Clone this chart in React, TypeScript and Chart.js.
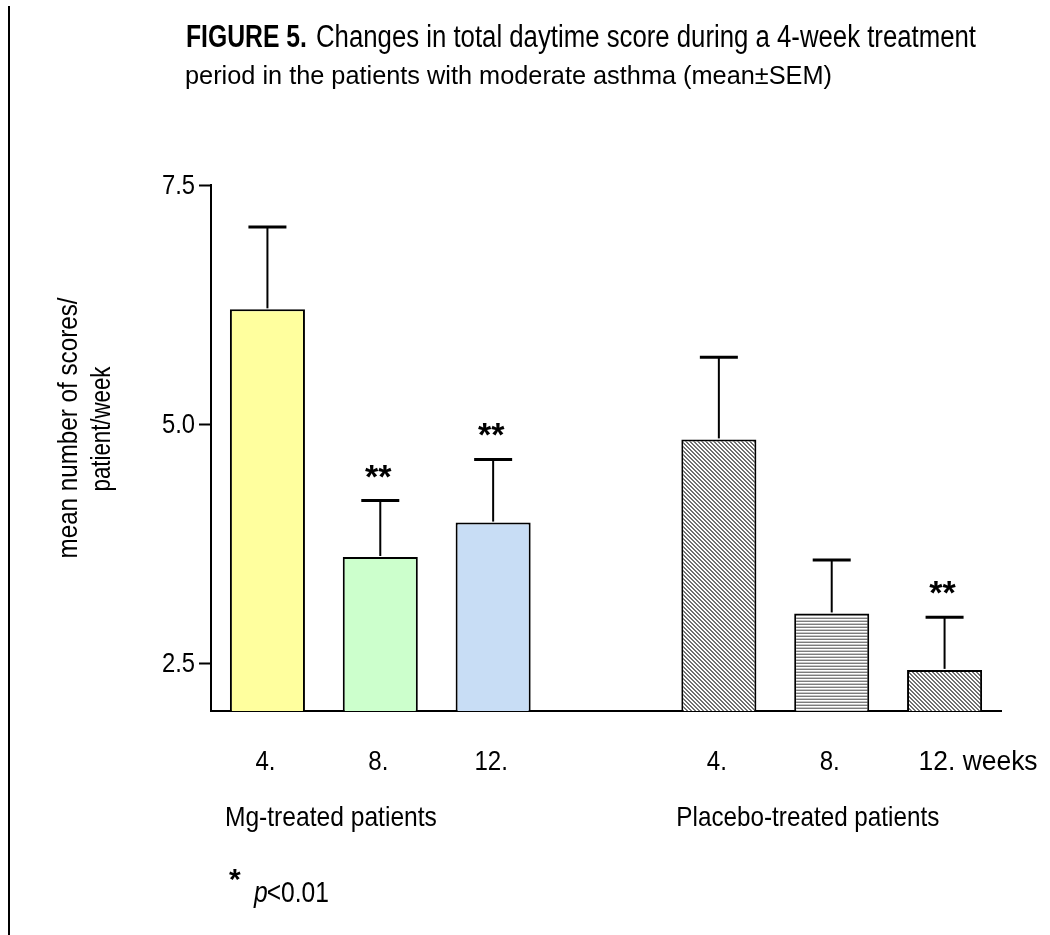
import React, { useEffect, useRef } from "react";
import { Chart, registerables } from "chart.js";

Chart.register(...registerables);

// ---------- data ----------
const categories = ["Mg 4", "Mg 8", "Mg 12", "", "Placebo 4", "Placebo 8", "Placebo 12"];
const tickLabels = ["4.", "8.", "12.", "", "4.", "8.", "12. weeks"];
const meanValues: (number | null)[] = [6.2, 3.61, 3.97, null, 4.84, 3.02, 2.43];
const semValues: (number | null)[] = [0.86, 0.59, 0.66, null, 0.86, 0.56, 0.55];
const significance = ["", "**", "**", "", "", "", "**"];
const yTicks = [2.5, 5.0, 7.5];
const groupLabels = ["Mg-treated patients", "Placebo-treated patients"];
const groupStartIndex = [0, 4];
const titleBold = "FIGURE 5.";
const titleLine1 = "Changes in total daytime score during a 4-week treatment";
const titleLine2 = "period in the patients with moderate asthma (mean±SEM)";
const yTitle = ["mean number of scores/", "patient/week"];
const noteStar = "*";
const noteP = "p";
const noteRest = "<0.01";

const FONT = "'Liberation Sans', Arial, Helvetica, sans-serif";

function makeDiagPattern(ctx: CanvasRenderingContext2D): CanvasPattern | string {
  const c = document.createElement("canvas");
  c.width = 4;
  c.height = 4;
  const g = c.getContext("2d");
  if (!g) return "#b0b0b0";
  g.fillStyle = "#ffffff";
  g.fillRect(0, 0, 4, 4);
  g.fillStyle = "#707070";
  for (let i = 0; i < 4; i++) {
    g.fillRect(i, i, 1, 1);
    g.fillRect((i + 1) % 4, i, 1, 1);
  }
  return ctx.createPattern(c, "repeat") || "#b0b0b0";
}

function makeHorizPattern(ctx: CanvasRenderingContext2D): CanvasPattern | string {
  const c = document.createElement("canvas");
  c.width = 4;
  c.height = 3;
  const g = c.getContext("2d");
  if (!g) return "#b0b0b0";
  g.fillStyle = "#7c7c7c";
  g.fillRect(0, 0, 4, 1);
  g.fillStyle = "#ffffff";
  g.fillRect(0, 1, 4, 1);
  g.fillStyle = "#c8c8c8";
  g.fillRect(0, 2, 4, 1);
  return ctx.createPattern(c, "repeat") || "#b0b0b0";
}

// draw text compressed horizontally by sx
function drawScaled(
  ctx: CanvasRenderingContext2D,
  text: string,
  x: number,
  y: number,
  font: string,
  sx: number,
  align: CanvasTextAlign
) {
  ctx.save();
  ctx.font = font;
  ctx.textAlign = align;
  ctx.textBaseline = "alphabetic";
  ctx.translate(x, y);
  ctx.scale(sx, 1);
  ctx.fillText(text, 0, 0);
  ctx.restore();
}

// draw text fitted to a given width
function drawToWidth(
  ctx: CanvasRenderingContext2D,
  text: string,
  x: number,
  y: number,
  font: string,
  width: number,
  align: CanvasTextAlign = "left"
) {
  ctx.save();
  ctx.font = font;
  const w = ctx.measureText(text).width;
  ctx.restore();
  drawScaled(ctx, text, x, y, font, width / w, align);
}

const annotationPlugin = {
  id: "figureAnnotations",
  afterDraw(chart: any) {
    const ctx: CanvasRenderingContext2D = chart.ctx;
    const yScale = chart.scales.y;
    const xScale = chart.scales.x;
    const meta = chart.getDatasetMeta(0);
    ctx.save();
    ctx.fillStyle = "#000";
    ctx.strokeStyle = "#000";

    // left frame line
    ctx.fillRect(8, 6, 2, 935 - 6);

    // y tick labels
    yScale.ticks.forEach((t: any) => {
      const y = yScale.getPixelForValue(t.value);
      drawScaled(ctx, Number(t.value).toFixed(1), 195, y + 9, `28px ${FONT}`, 0.85, "right");
    });

    // error bars + significance
    meanValues.forEach((m, i) => {
      const s = semValues[i];
      if (m == null || s == null) return;
      const bar = meta.data[i];
      const x = bar.x;
      const yBar = yScale.getPixelForValue(m);
      const yTop = yScale.getPixelForValue(m + s);
      ctx.lineWidth = 2;
      ctx.beginPath();
      ctx.moveTo(x, yBar - 1);
      ctx.lineTo(x, yTop);
      ctx.stroke();
      ctx.lineWidth = 3;
      ctx.beginPath();
      ctx.moveTo(x - 19, yTop);
      ctx.lineTo(x + 19, yTop);
      ctx.stroke();
      if (significance[i]) {
        drawScaled(ctx, significance[i], x - 2, yTop - 13, `bold 34px ${FONT}`, 1, "center");
      }
    });

    // x tick labels
    tickLabels.forEach((lab, i) => {
      if (!lab) return;
      const x = xScale.getPixelForValue(i);
      if (lab.indexOf(" ") > 0) {
        drawToWidth(ctx, lab, x - 26, 770, `28px ${FONT}`, 119, "left");
      } else {
        drawScaled(ctx, lab, x - 2, 770, `28px ${FONT}`, 0.86, "center");
      }
    });

    // group labels
    const groupWidths = [212, 263];
    groupLabels.forEach((lab, g) => {
      const bar = meta.data[groupStartIndex[g]];
      const left = bar.x - bar.width / 2;
      drawToWidth(ctx, lab, left - 5, 826, `28px ${FONT}`, groupWidths[g], "left");
    });

    // note
    drawScaled(ctx, noteStar, 229, 889, `bold 30px ${FONT}`, 1, "left");
    drawScaled(ctx, noteP, 254, 902, `italic 30px ${FONT}`, 0.82, "left");
    ctx.font = `italic 30px ${FONT}`;
    const pw = ctx.measureText(noteP).width * 0.82;
    drawScaled(ctx, noteRest, 254 + pw - 1, 902, `30px ${FONT}`, 0.82, "left");

    // title
    drawToWidth(ctx, titleBold, 186, 47, `bold 31px ${FONT}`, 121, "left");
    drawToWidth(ctx, titleLine1, 316, 47, `31px ${FONT}`, 660, "left");
    drawToWidth(ctx, titleLine2, 185, 84, `26px ${FONT}`, 647, "left");

    // y-axis title
    ctx.save();
    ctx.translate(77, 428);
    ctx.rotate(-Math.PI / 2);
    drawToWidth(ctx, yTitle[0], 0, 0, `28px ${FONT}`, 261, "center");
    ctx.restore();
    ctx.save();
    ctx.translate(110, 429);
    ctx.rotate(-Math.PI / 2);
    drawToWidth(ctx, yTitle[1], 0, 0, `28px ${FONT}`, 125, "center");
    ctx.restore();

    ctx.restore();
  },
};

export default function App() {
  const ref = useRef<HTMLCanvasElement | null>(null);
  useEffect(() => {
    const canvas = ref.current;
    if (!canvas) return;
    const ctx = canvas.getContext("2d");
    if (!ctx) return;
    const diag = makeDiagPattern(ctx);
    const horiz = makeHorizPattern(ctx);
    const fills = ["#FFFF9E", "#CCFFCC", "#C8DDF5", "#ffffff", diag, horiz, diag];
    const chart = new Chart(canvas, {
      type: "bar",
      data: {
        labels: categories,
        datasets: [
          {
            data: meanValues as any,
            backgroundColor: fills as any,
            borderColor: "#000",
            borderWidth: 2,
            barPercentage: 0.665,
            categoryPercentage: 1,
          },
        ],
      },
      options: {
        responsive: false,
        animation: false,
        layout: { padding: { left: 0, right: 49, top: 185, bottom: 0 } },
        plugins: {
          legend: { display: false },
          tooltip: { enabled: false },
          title: { display: false },
        },
        scales: {
          x: {
            grid: { display: false, drawTicks: false },
            border: { color: "#000", width: 2 },
            ticks: { display: false },
            afterFit: (s: any) => {
              s.height = 224;
            },
          },
          y: {
            min: 2,
            max: 7.5,
            afterBuildTicks: (s: any) => {
              s.ticks = yTicks.map((v) => ({ value: v }));
            },
            ticks: {
              callback: (v: any) => Number(v).toFixed(1),
              color: "rgba(0,0,0,0)",
              font: { family: FONT, size: 24 },
              padding: 3,
            },
            grid: {
              drawOnChartArea: false,
              tickLength: 12,
              color: "#000",
              tickWidth: 2,
            },
            border: { color: "#000", width: 2 },
            afterFit: (s: any) => {
              s.width = 211;
            },
          },
        },
      },
      plugins: [annotationPlugin],
    });
    return () => chart.destroy();
  }, []);
  return (
    <div style={{ position: "fixed", left: 0, top: 0, width: 1050, height: 935, background: "#fff" }}>
      <canvas ref={ref} width={1050} height={935} style={{ display: "block" }} />
    </div>
  );
}
